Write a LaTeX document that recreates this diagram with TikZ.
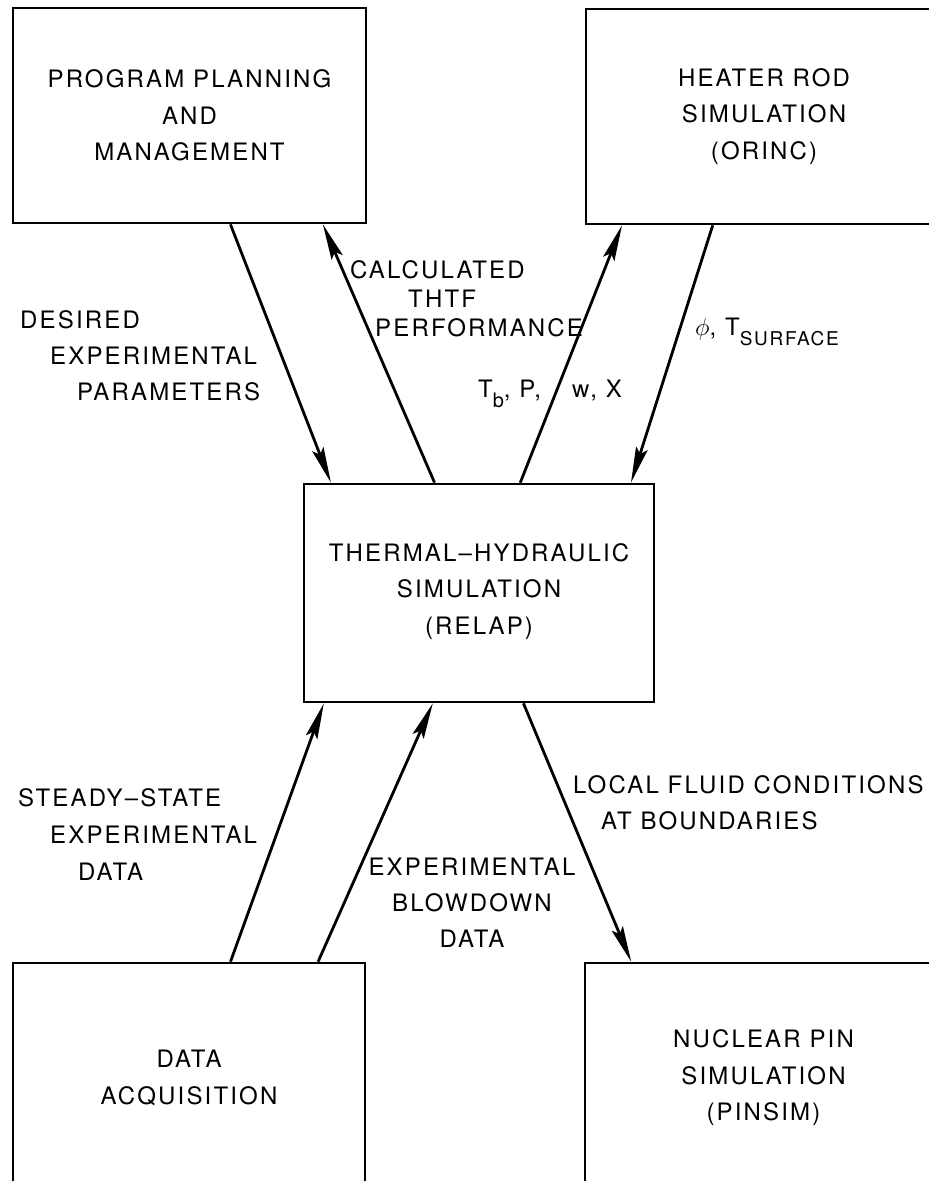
\documentclass[tikz,border=0pt]{standalone}
\usepackage{fontspec}
\setmainfont{TeX Gyre Heros}[LetterSpace=9]
\usetikzlibrary{arrows.meta}
\usetikzlibrary{calc}

\tikzset{
  sysbox/.style={draw, line width=2.6pt, inner sep=0pt, align=center,
    font=\fontsize{24}{36.5}\selectfont},
  lbl/.style={inner sep=0pt, font=\fontsize{24}{36}\selectfont},
  flow/.style={line width=2.8pt, -{Stealth[length=36pt,width=12pt,inset=6pt]}}
}

\begin{document}
\begin{tikzpicture}[x=1pt,y=-1pt]
\useasboundingbox (0,0) rectangle (929,1181);
\clip (0,0) rectangle (929,1181);

% blocks
\node[sysbox, minimum width=353pt, minimum height=215pt] (plan) at (189.5,115.5)
  {PROGRAM PLANNING\\AND\\MANAGEMENT};
\node[sysbox, minimum width=356pt, minimum height=215pt] (orinc) at (764,116.5)
  {HEATER ROD\\SIMULATION\\(ORINC)};
\node[sysbox, minimum width=350pt, minimum height=218pt] (relap) at (479,593)
  {\\[-22pt]THERMAL–HYDRAULIC\\SIMULATION\\(RELAP)};
\node[sysbox, minimum width=352pt, minimum height=230pt] (daq) at (189,1078)
  {DATA\\ACQUISITION};
\node[sysbox, minimum width=357pt, minimum height=230pt] (pinsim) at (763.5,1078)
  {NUCLEAR PIN\\SIMULATION\\(PINSIM)};

% data flows
\draw[flow] ($(plan.south west)!0.615!(plan.south east)$) -- ($(relap.north west)!0.08!(relap.north east)$);
\draw[flow] ($(relap.north west)!0.374!(relap.north east)$) -- ($(plan.south west)!0.875!(plan.south east)$);
\draw[flow] ($(relap.north west)!0.617!(relap.north east)$) -- ($(orinc.south west)!0.104!(orinc.south east)$);
\draw[flow] ($(orinc.south west)!0.357!(orinc.south east)$) -- ($(relap.north west)!0.931!(relap.north east)$);
\draw[flow] ($(daq.north west)!0.617!(daq.north east)$) -- ($(relap.south west)!0.06!(relap.south east)$);
\draw[flow] ($(daq.north west)!0.864!(daq.north east)$) -- ($(relap.south west)!0.369!(relap.south east)$);
\draw[flow] ($(relap.south west)!0.626!(relap.south east)$) -- ($(pinsim.north west)!0.132!(pinsim.north east)$);

% labels
\node[lbl, anchor=north west, align=left] (desired) at (20,310)
  {DESIRED\\\hspace*{30pt}EXPERIMENTAL\\\hspace*{57pt}PARAMETERS};
\node[lbl, anchor=north west, align=left, font=\fontsize{24}{29}\selectfont] (calcperf) at (350,260)
  {CALCULATED\\\hspace*{58pt}THTF\\\hspace*{25pt}PERFORMANCE};
\node[lbl, anchor=base west] (tbp) at (478,397) {T\raisebox{-10pt}{\fontsize{20}{20}\selectfont b}, P,};
\node[lbl, anchor=base west] (wx) at (572,397) {w, X};
\node[lbl, anchor=base west] (phit) at (695,335)
  {$\phi$, T\raisebox{-10pt}{\fontsize{19}{19}\selectfont SURFACE}};
\node[lbl, anchor=north west, align=left, font=\fontsize{24}{37}\selectfont] (steady) at (18,788)
  {STEADY–STATE\\\hspace*{32pt}EXPERIMENTAL\\\hspace*{60pt}DATA};
\node[lbl, anchor=north, align=center] (blowdown) at (472,858)
  {EXPERIMENTAL\\BLOWDOWN\\DATA};
\node[lbl, anchor=north west, align=left] (local) at (573,775)
  {LOCAL FLUID CONDITIONS\\\hspace*{28pt}AT BOUNDARIES};
\end{tikzpicture}
\end{document}
